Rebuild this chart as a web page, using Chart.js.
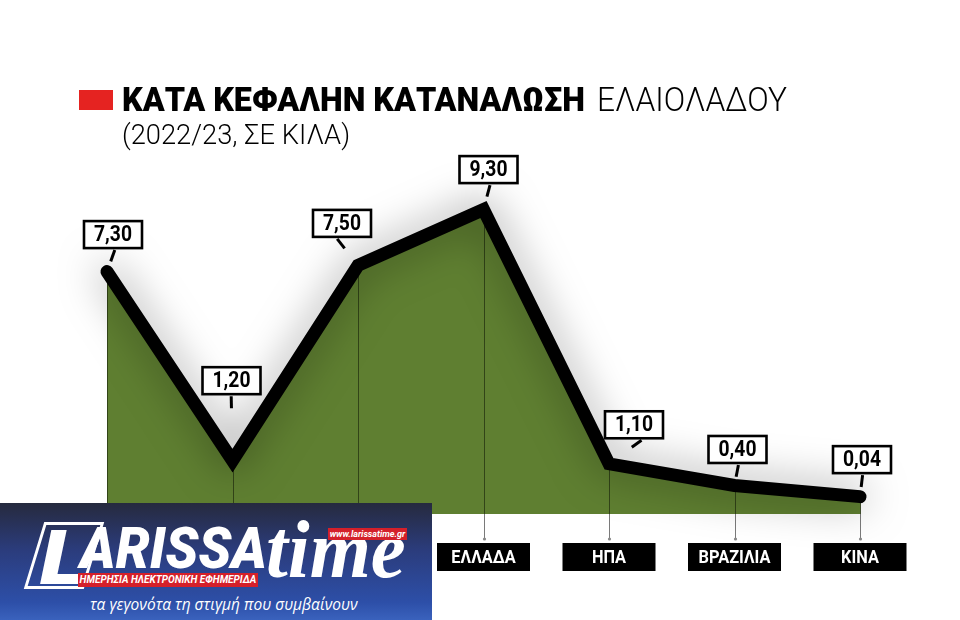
<!DOCTYPE html>
<html lang="el">
<head>
<meta charset="utf-8">
<title>Κατά κεφαλήν κατανάλωση ελαιολάδου</title>
<script src="https://cdn.jsdelivr.net/npm/chart.js@4.4.1/dist/chart.umd.min.js"></script>
<style>
  html, body { margin: 0; padding: 0; background: #fff; }
  #wrap { position: relative; width: 960px; height: 620px; overflow: hidden; font-family: Roboto, "Noto Sans", sans-serif; }
  #chart { position: absolute; left: 0; top: 0; }
  .fit { position: absolute; white-space: nowrap; line-height: 1; transform-origin: 0 0; }
  #redBox { position: absolute; left: 79px; top: 90px; width: 34px; height: 20px; background: #e52321; }
  #titleBold { left: 122px; top: 84px; font-size: 32.5px; font-weight: 900; color: #000; }
  #titleLight { left: 597px; top: 84px; font-size: 32.5px; font-weight: 300; color: #000; }
  #subtitle { left: 122px; top: 121px; font-size: 28px; font-weight: 300; color: #000; }

  #logo { position: absolute; left: 0; top: 503px; width: 432px; height: 117px; overflow: hidden;
          background: linear-gradient(180deg, #262a3e 0%, #2b3c7c 40%, #2d4fa8 85%, #3a62bd 100%); }
  #logo .lbox { position: absolute; left: 34px; top: 19px; width: 54px; height: 61px; border: 3px solid #fff; transform: skewX(-17deg); }
  #logo .lglyph { left: 40px; top: 10px; font: italic 900 76px Roboto, sans-serif; color: #fff; }
  #logo .arissa { left: 80px; top: 11px; font: italic 900 58px Roboto, sans-serif; color: #fff; }
  #logo .time { left: 266px; top: 0px; font: italic bold 82px "Liberation Serif", "DejaVu Serif", serif; color: #fff; }
  #logo .url { position: absolute; left: 328px; top: 25px; width: 79px; height: 12px; background: #d4202a; color: #fff;
               font: italic bold 9px Roboto, sans-serif; line-height: 12px; text-align: center; }
  #logo .banner { position: absolute; left: 78px; top: 70px; width: 180px; height: 14px; background: #d4202a; color: #fff;
                  font: italic bold 10px Roboto, sans-serif; line-height: 14px; text-align: center; }
  #logo .tag { position: absolute; left: 90px; top: 94px; font: italic 15.5px "Open Sans", Roboto, sans-serif; color: #fff; line-height: 1; }
</style>
</head>
<body>
<div id="wrap">
  <canvas id="chart" width="960" height="620"></canvas>
  <div id="redBox"></div>
  <div class="fit" id="titleBold" data-w="463">ΚΑΤΑ ΚΕΦΑΛΗΝ ΚΑΤΑΝΑΛΩΣΗ</div>
  <div class="fit" id="titleLight" data-w="190">ΕΛΑΙΟΛΑΔΟΥ</div>
  <div class="fit" id="subtitle" data-w="228">(2022/23, ΣΕ ΚΙΛΑ)</div>
  <div id="logo">
    <div class="lbox"></div>
    <div class="fit lglyph" data-w="48">L</div>
    <div class="fit arissa" data-w="187">ARISSA</div>
    <div class="fit time" data-w="140">time</div>
    <div class="url">www.larissatime.gr</div>
    <div class="banner">ΗΜΕΡΗΣΙΑ ΗΛΕΚΤΡΟΝΙΚΗ ΕΦΗΜΕΡΙΔΑ</div>
    <div class="tag">τα γεγονότα τη στιγμή που συμβαίνουν</div>
  </div>
</div>
<script>
// data (kg per person, 2022/23)
const countries = ["ΙΣΠΑΝΙΑ", "ΓΑΛΛΙΑ", "ΙΤΑΛΙΑ", "ΕΛΛΑΔΑ", "ΗΠΑ", "ΒΡΑΖΙΛΙΑ", "ΚΙΝΑ"];
const kilos = [7.30, 1.20, 7.50, 9.30, 1.10, 0.40, 0.04];
const yMin = -0.52;
const yMax = 10.9;

// where each value box sits relative to its point
const labelShift = [[6, -37], [-1, -80], [-16, -42], [5, -40], [25, -39], [3, -36], [2, -37]];

// squeeze the html texts to the widths in the original
document.querySelectorAll(".fit").forEach((el) => {
	const target = Number(el.dataset.w);
	el.style.transform = `scaleX(${target / el.offsetWidth})`;
});

const fmt = (v) => v.toFixed(2).replace(".", ",");

// thin lines from each point down to the country label + shadow for the line
const dropLines = {
	id: "dropLines",
	beforeDatasetDraw(chart) {
		const { ctx, chartArea } = chart;
		const pts = chart.getDatasetMeta(0).data;
		ctx.save();
		ctx.lineWidth = 1;
		pts.forEach((p) => {
			const x = Math.round(p.x) + 0.5;
			const end = chartArea.bottom + 25;
			ctx.strokeStyle = "rgba(45,62,22,0.9)";
			ctx.beginPath();
			ctx.moveTo(x, p.y);
			ctx.lineTo(x, chartArea.bottom);
			ctx.stroke();
			ctx.strokeStyle = "#7a7a7a";
			ctx.beginPath();
			ctx.moveTo(x, chartArea.bottom);
			ctx.lineTo(x, end);
			ctx.stroke();
			ctx.fillStyle = "#888";
			ctx.beginPath();
			ctx.arc(x, end, 1.6, 0, Math.PI * 2);
			ctx.fill();
		});
		ctx.restore();

		ctx.save();
		ctx.shadowColor = "rgba(0,0,0,0.5)";
		ctx.shadowBlur = 40;
	},
	afterDatasetDraw(chart) {
		chart.ctx.restore();
	},
};

const boxes = {
	id: "boxes",
	afterDatasetsDraw(chart) {
		const { ctx, chartArea } = chart;
		const pts = chart.getDatasetMeta(0).data;
		ctx.save();
		ctx.textAlign = "center";
		ctx.textBaseline = "middle";

		pts.forEach((p, i) => {
			const [dx, dy] = labelShift[i];
			const cx = p.x + dx;
			const cy = p.y + dy;
			const w = 58;
			const h = 27;
			ctx.fillStyle = "#fff";
			ctx.fillRect(cx - w / 2, cy - h / 2, w, h);
			ctx.strokeStyle = "#000";
			ctx.lineWidth = 2.6;
			ctx.strokeRect(cx - w / 2, cy - h / 2, w, h);

			// little pointer under the box
			const sx = cx + dx * 0.3;
			const sy = cy + h / 2 + 2;
			const a = Math.atan2(p.y - sy, p.x - sx);
			ctx.lineWidth = 3;
			ctx.beginPath();
			ctx.moveTo(sx, sy);
			ctx.lineTo(sx + 12 * Math.cos(a), sy + 12 * Math.sin(a));
			ctx.stroke();

			ctx.save();
			ctx.translate(cx, cy + 1);
			ctx.scale(0.92, 1.05);
			ctx.fillStyle = "#000";
			ctx.font = "bold 21px Roboto";
			ctx.fillText(fmt(kilos[i]), 0, 0);
			ctx.restore();
		});

		countries.forEach((c, i) => {
			const x = chart.scales.x.getPixelForValue(i);
			const top = chartArea.bottom + 29;
			ctx.fillStyle = "#000";
			ctx.fillRect(x - 46.5, top, 93, 28);
			ctx.save();
			ctx.translate(x, top + 15);
			ctx.scale(0.86, 1);
			ctx.fillStyle = "#fff";
			ctx.font = "bold 19px Roboto";
			ctx.fillText(c, 0, 0);
			ctx.restore();
		});
		ctx.restore();
	},
};

new Chart(document.getElementById("chart"), {
	type: "line",
	data: {
		labels: countries,
		datasets: [
			{
				data: kilos,
				borderColor: "#000",
				borderWidth: 13,
				borderCapStyle: "round",
				borderJoinStyle: "miter",
				backgroundColor: "#5f7f31",
				fill: "start",
				tension: 0,
				pointRadius: 0,
				pointHoverRadius: 0,
				clip: false,
			},
		],
	},
	options: {
		responsive: false,
		animation: false,
		devicePixelRatio: 1,
		layout: { padding: { left: 107, right: 100, top: 160, bottom: 106 } },
		scales: {
			x: { display: false },
			y: { display: false, min: yMin, max: yMax },
		},
		plugins: {
			legend: { display: false },
			title: { display: false },
			tooltip: { enabled: false },
		},
	},
	plugins: [dropLines, boxes],
});
</script>
</body>
</html>
